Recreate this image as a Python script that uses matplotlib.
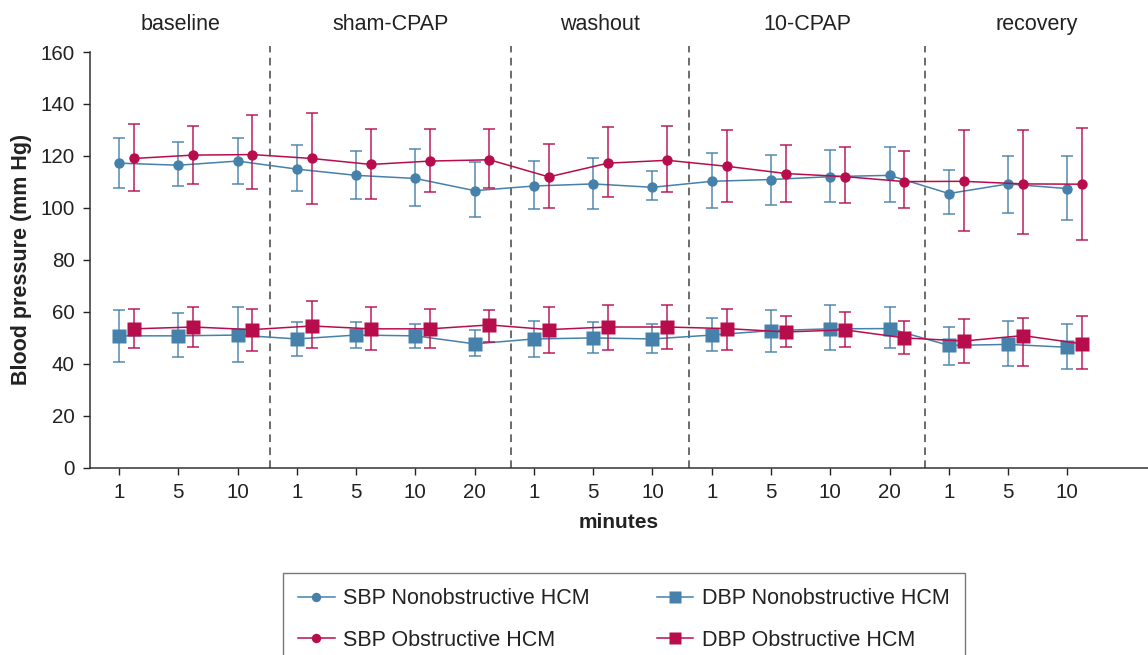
import matplotlib
matplotlib.use("Agg")
import matplotlib.pyplot as plt
import numpy as np

plt.rcParams['font.family'] = ['Liberation Sans', 'DejaVu Sans']

# phases and timepoints (minutes)
phases = ['baseline', 'sham-CPAP', 'washout', '10-CPAP', 'recovery']
minutes = [1, 5, 10, 1, 5, 10, 20, 1, 5, 10, 1, 5, 10, 20, 1, 5, 10]

# systolic, nonobstructive HCM (mean, upper, lower)
sbp_non = [117.2, 116.4, 118.0, 114.9, 112.5, 111.3, 106.6, 108.4, 109.2, 107.9, 110.2, 110.9, 112.0, 112.5, 105.5, 109.2, 107.4]
sbp_non_hi = [127.0, 125.2, 127.0, 124.0, 121.7, 122.8, 117.5, 118.2, 119.2, 114.1, 121.2, 120.5, 122.3, 123.5, 114.6, 120.0, 120.0]
sbp_non_lo = [107.6, 108.3, 109.2, 106.5, 103.5, 100.6, 96.4, 99.4, 99.5, 103.0, 99.9, 101.1, 102.2, 102.2, 97.8, 98.1, 95.3]

# systolic, obstructive HCM
sbp_obs = [119.0, 120.3, 120.5, 119.0, 116.7, 118.0, 118.5, 111.9, 117.2, 118.3, 116.0, 113.2, 112.0, 110.1, 110.2, 109.2, 109.1]
sbp_obs_hi = [132.4, 131.6, 135.8, 136.5, 130.4, 130.4, 130.4, 124.6, 131.2, 131.6, 129.8, 124.1, 123.5, 121.7, 129.9, 129.8, 130.6]
sbp_obs_lo = [106.5, 109.2, 107.1, 101.6, 103.5, 105.9, 107.6, 100.1, 104.2, 105.9, 102.2, 102.2, 101.7, 100.1, 91.2, 90.0, 87.6]

# diastolic, nonobstructive HCM
dbp_non = [50.7, 50.7, 51.0, 49.5, 51.0, 50.7, 47.6, 49.5, 49.9, 49.5, 51.0, 52.7, 53.4, 53.5, 47.0, 47.4, 46.3]
dbp_non_hi = [60.5, 59.4, 61.7, 55.9, 55.9, 55.4, 52.8, 56.3, 55.9, 55.3, 57.7, 60.5, 62.4, 61.7, 54.1, 56.4, 55.4]
dbp_non_lo = [40.7, 42.4, 40.7, 42.9, 45.9, 45.9, 43.0, 42.4, 44.1, 44.1, 44.7, 44.3, 45.4, 46.0, 39.5, 38.9, 37.8]

# diastolic, obstructive HCM
dbp_obs = [53.4, 54.1, 53.1, 54.5, 53.4, 53.4, 54.9, 53.1, 54.1, 54.1, 53.5, 52.2, 53.0, 49.9, 48.7, 50.8, 47.6]
dbp_obs_hi = [61.2, 61.7, 61.1, 64.2, 61.7, 61.1, 60.5, 61.9, 62.5, 62.5, 61.1, 58.2, 59.9, 56.3, 57.0, 57.6, 58.2]
dbp_obs_lo = [45.9, 46.5, 44.7, 46.0, 45.2, 45.9, 48.3, 44.1, 45.4, 45.8, 45.4, 46.5, 46.5, 43.7, 40.1, 38.9, 37.8]

BLUE = '#4581aa'
RED = '#b80d4d'
TXT = '#222222'

fig = plt.figure(figsize=(11.48, 6.55), dpi=100)
ax = fig.add_axes([90 / 1148, 1 - 467.5 / 655, 1 - 90 / 1148, (467.5 - 52) / 655])

x = np.arange(len(minutes))
off = 0.25

series = [
    (x, sbp_non, sbp_non_hi, sbp_non_lo, BLUE, 'o', 7.5, 'SBP Nonobstructive HCM'),
    (x + off, sbp_obs, sbp_obs_hi, sbp_obs_lo, RED, 'o', 7.5, 'SBP Obstructive HCM'),
    (x, dbp_non, dbp_non_hi, dbp_non_lo, BLUE, 's', 9.5, 'DBP Nonobstructive HCM'),
    (x + off, dbp_obs, dbp_obs_hi, dbp_obs_lo, RED, 's', 9.5, 'DBP Obstructive HCM'),
]

handles = {}
for i, (xs, m, hi, lo, c, mk, ms, lab) in enumerate(series):
    m = np.array(m)
    yerr = [m - np.array(lo), np.array(hi) - m]
    ax.errorbar(xs, m, yerr=yerr, fmt='none', ecolor=c, elinewidth=1.2,
                capsize=4.5, capthick=1.2, alpha=0.85, zorder=2 + i)
    h, = ax.plot(xs, m, color=c, lw=1.1, marker=mk, ms=ms, mec='none', label=lab, zorder=3 + i)
    handles[lab] = h

# phase dividers and labels
dividers = [2.55, 6.62, 9.62, 13.6]
xlo, xhi = -0.49, 17.36
ax.set_xlim(xlo, xhi)
ax.set_ylim(0, 160)
for d in dividers:
    ax.axvline(d, ymin=0, ymax=1.015, color='#444444', lw=1.1, ls=(0, (5, 3.5)), clip_on=False, zorder=1)
edges = [xlo] + dividers + [xhi]
for i, p in enumerate(phases):
    ax.text((edges[i] + edges[i + 1]) / 2, 1.066, p, transform=ax.get_xaxis_transform(),
            ha='center', va='center', fontsize=15.5, color=TXT)

ax.set_xticks(x)
ax.set_xticklabels([str(v) for v in minutes])
ax.set_yticks(np.arange(0, 161, 20))
ax.tick_params(axis='both', labelsize=14.8, colors=TXT, length=5, width=1, direction='out')
ax.tick_params(axis='x', pad=6)
ax.tick_params(axis='y', pad=6)
for s in ['top', 'right']:
    ax.spines[s].set_visible(False)
for s in ['left', 'bottom']:
    ax.spines[s].set_color('#333333')
    ax.spines[s].set_linewidth(1.1)

ax.set_xlabel('minutes', fontsize=15, fontweight='bold', color=TXT, labelpad=8)
ax.set_ylabel('Blood pressure (mm Hg)', fontsize=15.5, fontweight='bold', color=TXT, labelpad=6)

order = ['SBP Nonobstructive HCM', 'SBP Obstructive HCM', 'DBP Nonobstructive HCM', 'DBP Obstructive HCM']
leg = fig.legend([handles[k] for k in order], order, ncol=2, loc='upper left',
                 bbox_to_anchor=(283 / 1148, 1 - 573 / 655), borderaxespad=0, fontsize=15.5,
                 frameon=True, fancybox=False, edgecolor='#555555', handlelength=1.7,
                 handletextpad=0.4, columnspacing=3.1, labelspacing=0.95, borderpad=0.7,
                 markerscale=0.9)
leg.get_frame().set_linewidth(1.0)
for t in leg.get_texts():
    t.set_color(TXT)

fig.savefig('out.png', dpi=100)
